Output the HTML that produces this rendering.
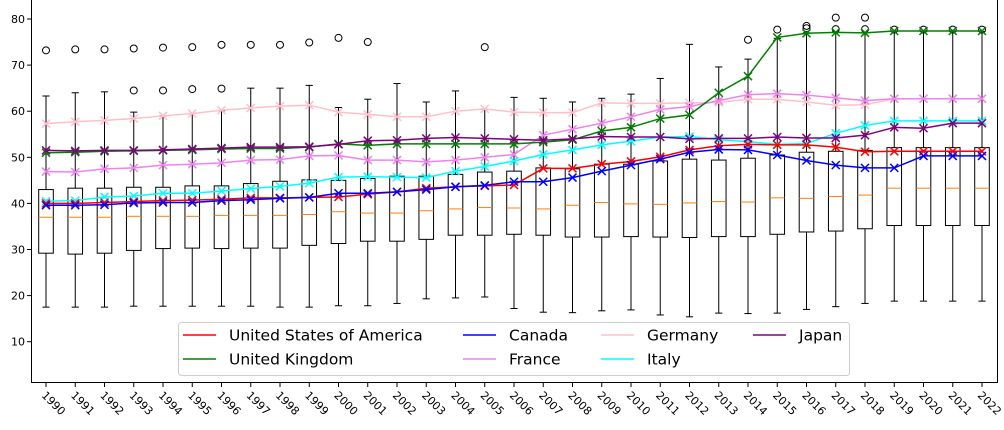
<!DOCTYPE html>
<html><head><meta charset="utf-8"><style>
body{margin:0;background:#fff;}
svg text{font-family:"DejaVu Sans","Liberation Sans",sans-serif;}
</style></head><body>
<svg id="chart" width="1004" height="425" xmlns="http://www.w3.org/2000/svg"></svg>
<script>
const years=[1990,1991,1992,1993,1994,1995,1996,1997,1998,1999,2000,2001,2002,2003,2004,2005,2006,2007,2008,2009,2010,2011,2012,2013,2014,2015,2016,2017,2018,2019,2020,2021,2022];
const whiskerLow=[17.5,17.5,17.5,17.7,17.7,17.7,17.7,17.7,17.5,17.5,17.8,17.8,18.3,19.3,19.5,19.7,17.2,16.4,16.3,16.7,16.9,15.8,15.4,16.2,16.1,16.2,17.0,17.6,18.3,18.8,18.8,18.8,18.8];
const q1=[29.2,29,29.2,29.8,30.2,30.3,30.2,30.3,30.3,30.9,31.3,31.8,31.8,32.2,33.1,33.1,33.3,33.1,32.7,32.7,32.8,32.7,32.6,32.8,32.8,33.3,33.8,34.0,34.5,35.2,35.2,35.2,35.2];
const medians=[37,37,37,37.2,37.2,37.2,37.4,37.4,37.4,37.6,38.2,37.9,37.9,38.4,38.8,39.1,39.0,38.8,39.6,40.2,39.9,39.8,40.1,40.4,40.3,41.2,41.1,41.5,41.8,43.3,43.3,43.3,43.3];
const q3=[43,43.3,43.3,43.5,43.5,43.8,43.8,44.3,44.8,45.1,45.0,45.4,45.9,45.9,46.3,46.8,47.0,47.7,47.5,48.5,48.5,49.2,49.6,49.4,49.8,50.5,51.1,51.3,51.5,52.1,52.1,52.1,52.1];
const whiskerHigh=[63.3,64,64.2,59.8,59,59.5,60.1,65,65,65.6,60.8,62.6,66.0,62.0,64.4,60.4,63.0,62.8,62.0,62.8,63.7,67.1,74.5,69.6,71.3,75.8,77.0,77.2,77.0,77.3,77.3,77.3,77.3];
const outliers=[[73.2],[73.4],[73.4],[73.6,64.5],[73.8,64.5],[73.9,64.8],[74.4,64.9],[74.4],[74.4],[74.9],[75.9],[75.0],[],[],[],[73.9],[],[],[],[],[],[],[],[],[75.5],[77.7],[78.5,78.0],[80.3,77.8],[80.3,77.8],[77.7],[77.7],[77.7],[77.7]];
const usa=[40.0,40.0,40.2,40.4,40.6,40.7,40.9,41.2,41.2,41.3,41.4,42.0,42.5,43.3,43.6,43.8,44.0,47.6,47.6,48.5,49.1,50.1,51.6,52.5,52.8,52.7,52.7,52.2,51.2,51.3,51.3,51.3,51.3];
const uk=[51.0,51.1,51.3,51.4,51.5,51.6,51.8,51.9,51.9,52.2,52.9,52.6,52.9,52.9,52.9,52.9,52.9,53.3,53.8,55.7,56.5,58.4,59.2,64.0,67.6,76.0,76.9,77.1,77.0,77.4,77.4,77.4,77.4];
const canada=[39.6,39.6,39.7,40.1,40.2,40.2,40.6,40.8,41.1,41.3,42.2,42.2,42.5,43.0,43.6,43.9,44.7,44.7,45.6,47.0,48.3,49.6,51.1,51.7,51.6,50.5,49.3,48.3,47.7,47.7,50.3,50.3,50.3];
const france=[46.9,46.8,47.5,47.7,48.3,48.5,48.8,49.4,49.5,50.3,50.4,49.4,49.4,49.0,49.4,50.0,50.6,54.8,56.1,57.4,58.8,60.4,61.0,62.3,63.6,63.8,63.5,62.9,62.3,62.7,62.7,62.7,62.7];
const germany=[57.3,57.7,58.0,58.4,59.0,59.5,60.2,60.7,61.1,61.3,59.8,59.3,58.8,58.8,60.0,60.5,59.8,59.7,59.7,61.8,61.7,61.7,61.8,61.9,62.6,62.6,62.0,61.3,61.4,62.7,62.7,62.7,62.7];
const italy=[40.5,40.6,41.4,41.6,42.2,42.2,42.7,43.2,43.7,44.4,45.7,45.8,45.7,45.6,47.0,48.0,49.2,50.6,51.6,52.7,53.5,54.4,54.5,53.8,53.4,52.8,53.0,55.2,56.9,57.9,57.9,57.9,57.9];
const japan=[51.5,51.4,51.5,51.5,51.6,51.8,52.0,52.2,52.2,52.3,52.8,53.6,53.7,54.1,54.3,54.1,53.9,53.7,54.0,54.5,54.4,54.4,54.0,54.1,54.1,54.4,54.2,54.2,54.8,56.5,56.3,57.4,57.4];
const yTicks=[10,20,30,40,50,60,70,80];

const svg=document.getElementById('chart');
const NS='http://www.w3.org/2000/svg';
const X0=46,DX=29.25;
function xs(i){return X0+i*DX;}
function ys(v){return 19+(80-v)*4.61;}
function mk(tag,attrs,parent){const e=document.createElementNS(NS,tag);for(const k in attrs)e.setAttribute(k,attrs[k]);(parent||svg).appendChild(e);return e;}

// axes frame
const frame=mk('rect',{x:31.5,y:-2,width:966,height:384.5,fill:'none',stroke:'#000','stroke-width':1});



yTicks.forEach(t=>{
  const y=ys(t);
  const l=mk('line',{x1:27,x2:31.5,y1:y,y2:y,stroke:'#000'});
  
  
  const tx=mk('text',{x:25,y:y+4,'text-anchor':'end','font-size':11});
  tx.textContent=t;
  
  
});
years.forEach((yr,i)=>{
  const x=xs(i);
  const l=mk('line',{x1:x,x2:x,y1:382.5,y2:387,stroke:'#000'});
  
  
  const tx=mk('text',{x:x-5,y:396,'font-size':11,transform:`rotate(45 ${x-5} 396)`});
  tx.textContent=yr;
  
  
});

// boxes
years.forEach((yr,i)=>{
  const g=mk('g',{});
  
  
  const x=xs(i),w=7.3,c=3.6;
  mk('line',{x1:x,x2:x,y1:ys(q3[i]),y2:ys(whiskerHigh[i]),stroke:'#000'},g);
  mk('line',{x1:x,x2:x,y1:ys(q1[i]),y2:ys(whiskerLow[i]),stroke:'#000'},g);
  mk('line',{x1:x-c,x2:x+c,y1:ys(whiskerHigh[i]),y2:ys(whiskerHigh[i]),stroke:'#000'},g);
  mk('line',{x1:x-c,x2:x+c,y1:ys(whiskerLow[i]),y2:ys(whiskerLow[i]),stroke:'#000'},g);
  mk('rect',{x:x-w,y:ys(q3[i]),width:2*w,height:ys(q1[i])-ys(q3[i]),fill:'none',stroke:'#000'},g);
  mk('line',{x1:x-w,x2:x+w,y1:ys(medians[i]),y2:ys(medians[i]),stroke:'#ff7f0e'},g);
  outliers[i].forEach(o=>{
    const ci=mk('circle',{cx:x,cy:ys(o),r:3.5,fill:'none',stroke:'#000'},g);
    
    
  });
});

// series
const series=[[germany,'pink','germany'],[france,'violet','france'],[italy,'cyan','italy'],[usa,'red','usa'],[canada,'blue','canada'],[uk,'green','uk'],[japan,'purple','japan']];
series.forEach(([d,col,nm])=>{
  const g=mk('g',{});
  
  
  mk('polyline',{points:d.map((v,i)=>xs(i)+','+ys(v)).join(' '),fill:'none',stroke:col,'stroke-width':1.5},g);
  d.forEach((v,i)=>{
    const x=xs(i),y=ys(v),s=4;
    mk('path',{d:`M${x-s},${y-s}L${x+s},${y+s}M${x-s},${y+s}L${x+s},${y-s}`,stroke:col,'stroke-width':1.5},g);
  });
});

// legend
const lg=mk('g',{});


mk('rect',{x:178.5,y:322.5,width:671,height:53,rx:3,fill:'rgba(255,255,255,0.8)',stroke:'#ccc'},lg);
const entries=[['United States of America','red',183,335],['United Kingdom','green',183,359],['Canada','blue',463,335],['France','violet',463,359],['Germany','pink',601,335],['Italy','cyan',601,359],['Japan','purple',753,335]];
entries.forEach(([t,c,x,y])=>{
  const e=mk('g',{},lg);
  
  
  mk('line',{x1:x,x2:x+33,y1:y,y2:y,stroke:c,'stroke-width':1.5},e);
  const tx=mk('text',{x:x+46,y:y+5.5,'font-size':15.5},e);
  tx.textContent=t;
});
</script>
</body></html>
